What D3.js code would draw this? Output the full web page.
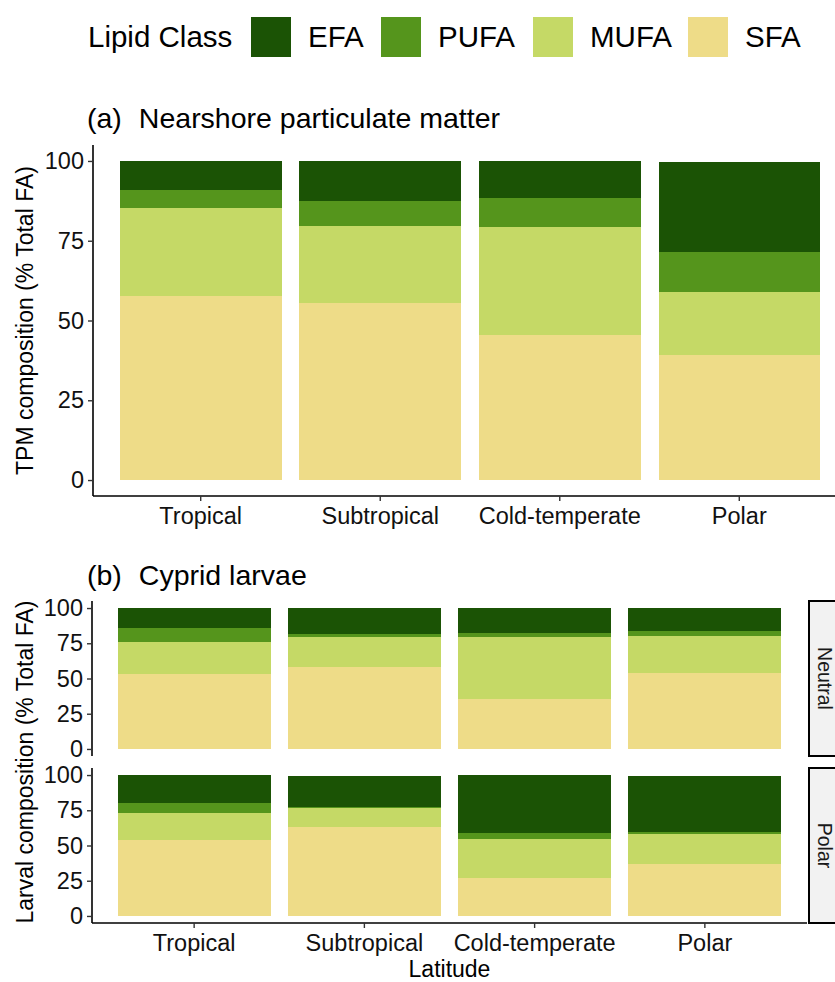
<!DOCTYPE html>
<html>
<head>
<meta charset="utf-8">
<script src="https://cdn.jsdelivr.net/npm/d3@7"></script>
<style>
  body { margin: 0; background: #fff; }
  svg { font-family: "Liberation Sans", Arial, sans-serif; }
</style>
</head>
<body>
<svg id="chart" width="835" height="982"></svg>
<script>
const latitudes = ["Tropical", "Subtropical", "Cold-temperate", "Polar"];
const classes = ["EFA", "PUFA", "MUFA", "SFA"];
const yTicks = [0, 25, 50, 75, 100];

// (a) nearshore particulate matter
const tpmSFA  = [57.7, 55.5, 45.5, 39.2];
const tpmMUFA = [27.6, 24.1, 33.8, 19.7];
const tpmPUFA = [5.6, 7.9, 9.1, 12.7];
const tpmEFA  = [9.1, 12.5, 11.6, 28.2];

// (b) cyprid larvae, neutral lipids
const neuSFA  = [53.2, 58.2, 35.5, 53.9];
const neuMUFA = [22.7, 21.2, 43.9, 26.2];
const neuPUFA = [9.9, 2.2, 2.9, 3.6];
const neuEFA  = [14.2, 18.4, 17.7, 16.3];

// (b) cyprid larvae, polar lipids
const polSFA  = [53.9, 63.1, 27.2, 37.1];
const polMUFA = [19.1, 13.5, 27.4, 21.1];
const polPUFA = [7.1, 0.7, 4.3, 1.4];
const polEFA  = [19.9, 22.0, 41.1, 39.7];

const colour = d3.scaleOrdinal()
  .domain(classes)
  .range(["#1B5305", "#55951C", "#C5D966", "#EEDC88"]);

const rows = (sfa, mufa, pufa, efa) =>
  latitudes.map((lat, i) => ({ lat, SFA: sfa[i], MUFA: mufa[i], PUFA: pufa[i], EFA: efa[i] }));

const stack = d3.stack().keys(["SFA", "MUFA", "PUFA", "EFA"]);
const svg = d3.select("#chart");
const tickSize = 23.5;

// legend
svg.append("text").attr("x", 88).attr("y", 47)
  .attr("font-size", 29.5).text("Lipid Class");
const legendX = [251, 381, 533, 688];
classes.forEach((c, i) => {
  svg.append("rect").attr("x", legendX[i]).attr("y", 17)
    .attr("width", 40).attr("height", 40).attr("fill", colour(c));
  svg.append("text").attr("x", legendX[i] + 57).attr("y", 47)
    .attr("font-size", 29.5).text(c);
});

function drawBars(data, x, y) {
  const g = svg.append("g");
  g.selectAll("g")
    .data(stack(data))
    .enter().append("g")
    .attr("fill", d => colour(d.key))
    .selectAll("rect")
    .data(d => d)
    .enter().append("rect")
    .attr("x", d => x(d.data.lat))
    .attr("y", d => y(d[1]))
    .attr("width", x.bandwidth())
    .attr("height", d => y(d[0]) - y(d[1]))
    .attr("shape-rendering", "crispEdges");
}

function yAxis(y, x0) {
  const g = svg.append("g")
    .attr("transform", `translate(${x0},0)`)
    .call(d3.axisLeft(y).tickValues(yTicks).tickSize(5).tickPadding(4));
  g.select(".domain").attr("stroke", "#000").attr("stroke-width", 1.6)
    .attr("d", `M0,${y.range()[0]}V${y.range()[1]}`);
  g.selectAll(".tick line").attr("stroke", "#333").attr("stroke-width", 1.4);
  g.selectAll(".tick text").attr("font-size", tickSize).attr("fill", "#111")
    .attr("font-family", "Liberation Sans, Arial, sans-serif");
}

function xAxis(x, y0) {
  const g = svg.append("g")
    .attr("transform", `translate(0,${y0})`)
    .call(d3.axisBottom(x).tickSize(5).tickPadding(6).tickSizeOuter(0));
  g.select(".domain").attr("stroke", "#000").attr("stroke-width", 1.6)
    .attr("d", `M${x.range()[0]},0H${x.range()[1]}`);
  g.selectAll(".tick line").attr("stroke", "#333").attr("stroke-width", 1.4);
  g.selectAll(".tick text").attr("font-size", tickSize).attr("fill", "#111")
    .attr("font-family", "Liberation Sans, Arial, sans-serif");
}

// panel (a)
svg.append("text").attr("x", 87).attr("y", 128).attr("font-size", 28.5)
  .text("(a)").append("tspan").attr("dx", 17).text("Nearshore particulate matter");

const xa = d3.scaleBand().domain(latitudes).range([93, 847])
  .paddingInner(0.1).paddingOuter(0.15);
const ya = d3.scaleLinear().domain([-5, 105]).range([496, 145]);
drawBars(rows(tpmSFA, tpmMUFA, tpmPUFA, tpmEFA), xa, ya);
yAxis(ya, 93);
xAxis(xa, 496);

svg.append("text")
  .attr("transform", `translate(33,${(145 + 496) / 2}) rotate(-90)`)
  .attr("text-anchor", "middle").attr("font-size", 23).text("TPM composition (% Total FA)");

// panel (b)
svg.append("text").attr("x", 87).attr("y", 585).attr("font-size", 28.5)
  .text("(b)").append("tspan").attr("dx", 17).text("Cyprid larvae");

const xb = d3.scaleBand().domain(latitudes).range([92, 807])
  .paddingInner(0.1).paddingOuter(0.15);
const facets = [
  { label: "Neutral", top: 601, bottom: 756, data: rows(neuSFA, neuMUFA, neuPUFA, neuEFA) },
  { label: "Polar", top: 768, bottom: 923, data: rows(polSFA, polMUFA, polPUFA, polEFA) }
];
facets.forEach(f => {
  const y = d3.scaleLinear().domain([-5, 105]).range([f.bottom, f.top]);
  drawBars(f.data, xb, y);
  yAxis(y, 92);
  svg.append("rect").attr("x", 809).attr("y", f.top)
    .attr("width", 40).attr("height", f.bottom - f.top)
    .attr("fill", "#F2F2F2").attr("stroke", "#000").attr("stroke-width", 2);
  svg.append("text")
    .attr("transform", `translate(818,${(f.top + f.bottom) / 2}) rotate(90)`)
    .attr("text-anchor", "middle").attr("font-size", 19.5).attr("fill", "#1a1a1a")
    .text(f.label);
});
xAxis(xb, 923);

svg.append("text")
  .attr("transform", `translate(33,${(601 + 923) / 2}) rotate(-90)`)
  .attr("text-anchor", "middle").attr("font-size", 23).text("Larval composition (% Total FA)");

svg.append("text").attr("x", (92 + 807) / 2).attr("y", 977)
  .attr("text-anchor", "middle").attr("font-size", 23).text("Latitude");
</script>
</body>
</html>
